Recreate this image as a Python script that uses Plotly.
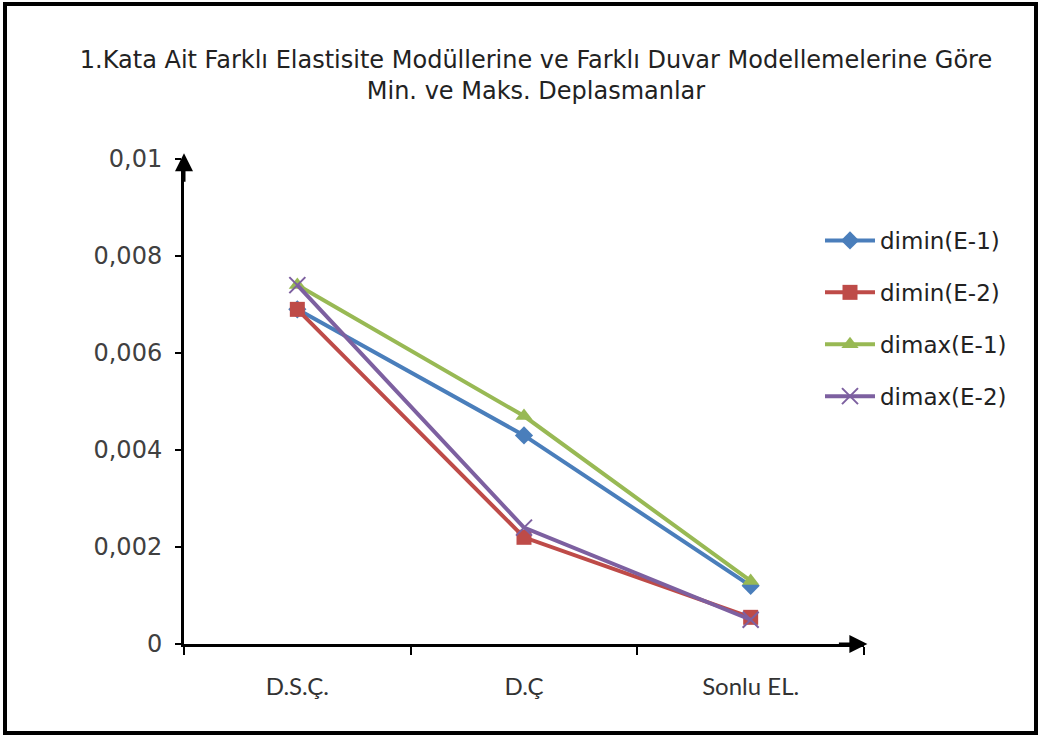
import plotly.graph_objects as go

categories = ["D.S.Ç.", "D.Ç", "Sonlu EL."]
dimin_e1 = [0.0069, 0.0043, 0.0012]
dimin_e2 = [0.0069, 0.0022, 0.00055]
dimax_e1 = [0.0074, 0.0047, 0.0013]
dimax_e2 = [0.0074, 0.0024, 0.0005]
series_names = ["dimin(E-1)", "dimin(E-2)", "dimax(E-1)", "dimax(E-2)"]
y_tickvals = [0, 0.002, 0.004, 0.006, 0.008, 0.01]
y_ticktext = ["0", "0,002", "0,004", "0,006", "0,008", "0,01"]
title_text = ("1.Kata Ait Farklı Elastisite Modüllerine ve Farklı Duvar Modellemelerine Göre"
              "<br>Min. ve Maks. Deplasmanlar")

W, H = 1040, 737
L, R, T, B = 184, 176, 159, 93

colors = ["#4a7ebb", "#be4b48", "#98b954", "#7d60a0"]
symbols = ["diamond", "square", "triangle-up", "x-thin"]
sizes = [14, 15, 15, 16]
series = [dimin_e1, dimin_e2, dimax_e1, dimax_e2]

fig = go.Figure()
for i, (name, vals) in enumerate(zip(series_names, series)):
    mk = dict(symbol=symbols[i], size=sizes[i], color=colors[i])
    if symbols[i] == "x-thin":
        mk["line"] = dict(color=colors[i], width=2)
    fig.add_trace(go.Scatter(
        x=categories, y=vals, name=name, mode="lines+markers",
        line=dict(color=colors[i], width=4), marker=mk,
        legendgroup=name,
    ))

pw = W - L - R
ph = H - T - B

fig.update_layout(
    width=W, height=H,
    margin=dict(l=L, r=R, t=T, b=B),
    paper_bgcolor="white", plot_bgcolor="white",
    title=dict(text=title_text, x=536 / W, xanchor="center",
               y=1 - 68 / H, yanchor="top",
               font=dict(family="DejaVu Sans", size=24, color="#222222")),
    legend=dict(x=(820 - L) / pw, y=(644 - 219) / ph, xanchor="left", yanchor="top",
                font=dict(family="DejaVu Sans", size=23, color="#222222"),
                tracegroupgap=19, traceorder="grouped", bgcolor="rgba(0,0,0,0)",
                itemwidth=50),
    showlegend=True,
)

fig.update_xaxes(
    type="category", range=[-0.5, 2.5], showgrid=False, zeroline=False,
    showline=True, linecolor="black", linewidth=3,
    ticks="outside", tickson="boundaries", ticklen=8, tickwidth=2, tickcolor="black",
    ticklabelstandoff=19,
    tickfont=dict(family="Lato", size=24, color="#333333"),
)
fig.update_yaxes(
    range=[0, 0.01], showgrid=False, zeroline=False,
    showline=True, linecolor="black", linewidth=3,
    tickvals=y_tickvals, ticktext=y_ticktext,
    ticks="outside", ticklen=6, tickwidth=2, tickcolor="black",
    ticklabelstandoff=8,
    tickfont=dict(family="DejaVu Sans", size=24, color="#404040"),
)

# axis arrow heads
fig.add_annotation(x=0, y=1.012, xref="paper", yref="paper", text="",
                   showarrow=True, ax=0, ay=30, arrowhead=2, arrowsize=1.2,
                   arrowwidth=3, arrowcolor="black")
fig.add_annotation(x=1.005, y=0, xref="paper", yref="paper", text="",
                   showarrow=True, ax=-30, ay=0, arrowhead=2, arrowsize=1.2,
                   arrowwidth=3, arrowcolor="black")

# outer frame
fig.add_shape(type="rect", xref="paper", yref="paper",
              x0=(5 - L) / pw, x1=(1036 - L) / pw,
              y0=(644 - 733) / ph, y1=(644 - 4) / ph,
              line=dict(color="black", width=4), fillcolor="rgba(0,0,0,0)")

fig.write_html("out.html", config={"displayModeBar": False},
               post_script="document.body.style.margin='0';")
